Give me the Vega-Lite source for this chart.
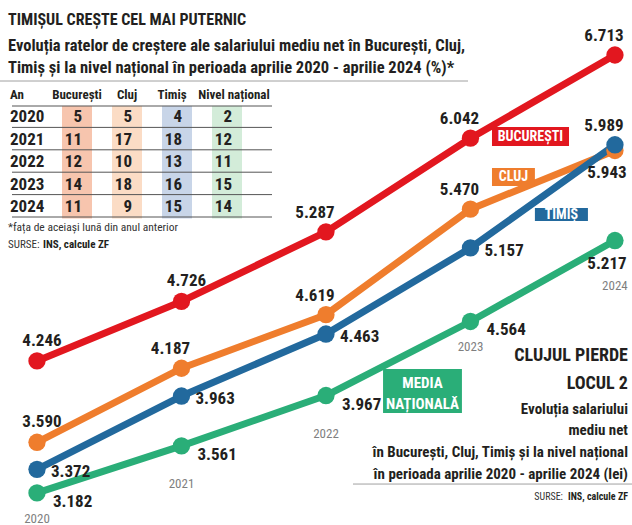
{
  "$schema": "https://vega.github.io/schema/vega-lite/v6.json",
  "width": 632,
  "height": 525,
  "autosize": "none",
  "padding": 0,
  "background": "white",
  "config": {
    "view": {"stroke": null},
    "font": "Roboto Condensed, DejaVu Sans Condensed, Liberation Sans Narrow, Liberation Sans, sans-serif",
    "locale": {"number": {"decimal": ",", "thousands": ".", "grouping": [3], "currency": ["", " lei"]}}
  },
  "datasets": {
    "salarii": [
      {"an": 2020, "regiune": "București", "salariu": 4246},
      {"an": 2021, "regiune": "București", "salariu": 4726},
      {"an": 2022, "regiune": "București", "salariu": 5287},
      {"an": 2023, "regiune": "București", "salariu": 6042},
      {"an": 2024, "regiune": "București", "salariu": 6713},
      {"an": 2020, "regiune": "Cluj", "salariu": 3590},
      {"an": 2021, "regiune": "Cluj", "salariu": 4187},
      {"an": 2022, "regiune": "Cluj", "salariu": 4619},
      {"an": 2023, "regiune": "Cluj", "salariu": 5470},
      {"an": 2024, "regiune": "Cluj", "salariu": 5943},
      {"an": 2020, "regiune": "Timiș", "salariu": 3372},
      {"an": 2021, "regiune": "Timiș", "salariu": 3963},
      {"an": 2022, "regiune": "Timiș", "salariu": 4463},
      {"an": 2023, "regiune": "Timiș", "salariu": 5157},
      {"an": 2024, "regiune": "Timiș", "salariu": 5989},
      {"an": 2020, "regiune": "Nivel național", "salariu": 3182},
      {"an": 2021, "regiune": "Nivel național", "salariu": 3561},
      {"an": 2022, "regiune": "Nivel național", "salariu": 3967},
      {"an": 2023, "regiune": "Nivel național", "salariu": 4564},
      {"an": 2024, "regiune": "Nivel național", "salariu": 5217}
    ],
    "rate": [
      {"an": "2020", "regiune": "București", "crestere": 5},
      {"an": "2020", "regiune": "Cluj", "crestere": 5},
      {"an": "2020", "regiune": "Timiș", "crestere": 4},
      {"an": "2020", "regiune": "Nivel național", "crestere": 2},
      {"an": "2021", "regiune": "București", "crestere": 11},
      {"an": "2021", "regiune": "Cluj", "crestere": 17},
      {"an": "2021", "regiune": "Timiș", "crestere": 18},
      {"an": "2021", "regiune": "Nivel național", "crestere": 12},
      {"an": "2022", "regiune": "București", "crestere": 12},
      {"an": "2022", "regiune": "Cluj", "crestere": 10},
      {"an": "2022", "regiune": "Timiș", "crestere": 13},
      {"an": "2022", "regiune": "Nivel național", "crestere": 11},
      {"an": "2023", "regiune": "București", "crestere": 14},
      {"an": "2023", "regiune": "Cluj", "crestere": 18},
      {"an": "2023", "regiune": "Timiș", "crestere": 16},
      {"an": "2023", "regiune": "Nivel național", "crestere": 15},
      {"an": "2024", "regiune": "București", "crestere": 11},
      {"an": "2024", "regiune": "Cluj", "crestere": 9},
      {"an": "2024", "regiune": "Timiș", "crestere": 15},
      {"an": "2024", "regiune": "Nivel național", "crestere": 14}
    ]
  },
  "layer": [
    {
      "layer": [
        {
          "data": {"name": "salarii"},
          "mark": {"type": "line", "strokeWidth": 7, "strokeCap": "round", "strokeJoin": "round"},
          "encoding": {
            "x": {"field": "an", "type": "quantitative", "scale": {"domain": [2019.744, 2024.118], "nice": false, "zero": false}, "axis": null},
            "y": {"field": "salariu", "type": "quantitative", "scale": {"domain": [2923, 7156.5], "nice": false, "zero": false}, "axis": null},
            "color": {"field": "regiune", "type": "nominal", "scale": {"domain": ["București", "Cluj", "Timiș", "Nivel național"], "range": ["#E2171F", "#EF7D2D", "#22699D", "#2AAE78"]}, "legend": null}
          }
        },
        {
          "data": {"name": "salarii"},
          "mark": {"type": "point", "filled": true, "size": 300, "opacity": 1, "shape": "circle"},
          "encoding": {
            "x": {"field": "an", "type": "quantitative"},
            "y": {"field": "salariu", "type": "quantitative"},
            "color": {"field": "regiune", "type": "nominal", "legend": null}
          }
        },
        {
          "data": {"name": "salarii"},
          "transform": [{"filter": "(datum.regiune === 'București' && datum.an <= 2021) || (datum.regiune === 'Cluj' && datum.an === 2020)"}],
          "mark": {"type": "text", "fontSize": 17, "fontWeight": "bold", "color": "#231F20", "align": "center", "baseline": "middle", "dx": 5, "dy": -20},
          "encoding": {
            "x": {"field": "an", "type": "quantitative"},
            "y": {"field": "salariu", "type": "quantitative"},
            "text": {"field": "salariu", "type": "quantitative", "format": ",d"}
          }
        },
        {
          "data": {"name": "salarii"},
          "transform": [{"filter": "(datum.regiune === 'București' && datum.an >= 2022) || (datum.regiune === 'Cluj' && datum.an >= 2021 && datum.an <= 2023) || (datum.regiune === 'Timiș' && datum.an === 2024)"}],
          "mark": {"type": "text", "fontSize": 17, "fontWeight": "bold", "color": "#231F20", "align": "center", "baseline": "middle", "dx": -11, "dy": -19},
          "encoding": {
            "x": {"field": "an", "type": "quantitative"},
            "y": {"field": "salariu", "type": "quantitative"},
            "text": {"field": "salariu", "type": "quantitative", "format": ",d"}
          }
        },
        {
          "data": {"name": "salarii"},
          "transform": [{"filter": "datum.regiune === 'Timiș' && datum.an <= 2023"}],
          "mark": {"type": "text", "fontSize": 17, "fontWeight": "bold", "color": "#231F20", "align": "left", "baseline": "middle", "dx": 14, "dy": 3},
          "encoding": {
            "x": {"field": "an", "type": "quantitative"},
            "y": {"field": "salariu", "type": "quantitative"},
            "text": {"field": "salariu", "type": "quantitative", "format": ",d"}
          }
        },
        {
          "data": {"name": "salarii"},
          "transform": [{"filter": "datum.regiune === 'Nivel național' && datum.an <= 2023"}],
          "mark": {"type": "text", "fontSize": 17, "fontWeight": "bold", "color": "#231F20", "align": "left", "baseline": "middle", "dx": 16, "dy": 9},
          "encoding": {
            "x": {"field": "an", "type": "quantitative"},
            "y": {"field": "salariu", "type": "quantitative"},
            "text": {"field": "salariu", "type": "quantitative", "format": ",d"}
          }
        },
        {
          "data": {"name": "salarii"},
          "transform": [{"filter": "(datum.regiune === 'Cluj' || datum.regiune === 'Nivel național') && datum.an === 2024"}],
          "mark": {"type": "text", "fontSize": 17, "fontWeight": "bold", "color": "#231F20", "align": "center", "baseline": "middle", "dx": -8, "dy": 23},
          "encoding": {
            "x": {"field": "an", "type": "quantitative"},
            "y": {"field": "salariu", "type": "quantitative"},
            "text": {"field": "salariu", "type": "quantitative", "format": ",d"}
          }
        },
        {
          "data": {"name": "salarii"},
          "transform": [{"filter": "datum.regiune === 'Nivel național' && (datum.an === 2020 || datum.an === 2023)"}],
          "mark": {"type": "text", "fontSize": 13, "color": "#7F7F7F", "align": "center", "baseline": "middle", "dy": 26},
          "encoding": {
            "x": {"field": "an", "type": "quantitative"},
            "y": {"field": "salariu", "type": "quantitative"},
            "text": {"field": "an", "type": "nominal"}
          }
        },
        {
          "data": {"name": "salarii"},
          "transform": [{"filter": "datum.regiune === 'Nivel național' && (datum.an === 2021 || datum.an === 2022)"}],
          "mark": {"type": "text", "fontSize": 13, "color": "#7F7F7F", "align": "center", "baseline": "middle", "dy": 38},
          "encoding": {
            "x": {"field": "an", "type": "quantitative"},
            "y": {"field": "salariu", "type": "quantitative"},
            "text": {"field": "an", "type": "nominal"}
          }
        },
        {
          "data": {"name": "salarii"},
          "transform": [{"filter": "datum.regiune === 'Nivel național' && datum.an === 2024"}],
          "mark": {"type": "text", "fontSize": 13, "color": "#7F7F7F", "align": "center", "baseline": "middle", "dy": 45},
          "encoding": {
            "x": {"field": "an", "type": "quantitative"},
            "y": {"field": "salariu", "type": "quantitative"},
            "text": {"field": "an", "type": "nominal"}
          }
        },
        {
          "data": {"values": [{}]},
          "mark": {"type": "rect", "color": "#E2171F"},
          "encoding": {"x": {"datum": 2023.149}, "x2": {"datum": 2023.682}, "y": {"datum": 6132.3}, "y2": {"datum": 5979.1}}
        },
        {
          "data": {"values": [{}]},
          "mark": {"type": "text", "text": "BUCUREȘTI", "fontSize": 14, "fontWeight": "bold", "color": "white", "align": "center", "baseline": "middle"},
          "encoding": {"x": {"datum": 2023.415}, "y": {"datum": 6055.7}}
        },
        {
          "data": {"values": [{}]},
          "mark": {"type": "rect", "color": "#EF7D2D"},
          "encoding": {"x": {"datum": 2023.149}, "x2": {"datum": 2023.446}, "y": {"datum": 5801.7}, "y2": {"datum": 5656.5}}
        },
        {
          "data": {"values": [{}]},
          "mark": {"type": "text", "text": "CLUJ", "fontSize": 14, "fontWeight": "bold", "color": "white", "align": "center", "baseline": "middle"},
          "encoding": {"x": {"datum": 2023.298}, "y": {"datum": 5729.1}}
        },
        {
          "data": {"values": [{}]},
          "mark": {"type": "rect", "color": "#22699D"},
          "encoding": {"x": {"datum": 2023.446}, "x2": {"datum": 2023.813}, "y": {"datum": 5479.1}, "y2": {"datum": 5374.2}}
        },
        {
          "data": {"values": [{}]},
          "mark": {"type": "text", "text": "TIMIȘ", "fontSize": 14, "fontWeight": "bold", "color": "white", "align": "center", "baseline": "middle"},
          "encoding": {"x": {"datum": 2023.629}, "y": {"datum": 5426.7}}
        },
        {
          "data": {"values": [{}]},
          "mark": {"type": "rect", "color": "#2AAE78"},
          "encoding": {"x": {"datum": 2022.395}, "x2": {"datum": 2022.941}, "y": {"datum": 4180.7}, "y2": {"datum": 3825.9}}
        },
        {
          "data": {"values": [{}]},
          "mark": {"type": "text", "text": ["MEDIA", "NAȚIONALĂ"], "fontSize": 15, "fontWeight": "bold", "color": "white", "align": "center", "baseline": "top", "lineHeight": 21},
          "encoding": {"x": {"datum": 2022.668}, "y": {"datum": 4128.3}}
        },
        {
          "data": {"values": [{}]},
          "mark": {"type": "text", "text": "TIMIȘUL CREȘTE CEL MAI PUTERNIC", "fontSize": 16, "fontWeight": "bold", "color": "#231F20", "align": "left", "baseline": "middle"},
          "encoding": {"x": {"datum": 2019.7994}, "y": {"datum": 6995.2}}
        },
        {
          "data": {"values": [{}]},
          "mark": {"type": "text", "text": ["Evoluția ratelor de creștere ale salariului mediu net în București, Cluj,", "Timiș și la nivel național în perioada aprilie 2020 - aprilie 2024 (%)*"], "fontSize": 16.5, "fontWeight": "bold", "color": "#231F20", "align": "left", "baseline": "top", "lineHeight": 22},
          "encoding": {"x": {"datum": 2019.7994}, "y": {"datum": 6851.6}}
        },
        {
          "data": {"values": [{}]},
          "mark": {"type": "rule", "color": "#A0A0A0", "strokeWidth": 1},
          "encoding": {"x": {"datum": 2019.744}, "x2": {"datum": 2022.983}, "y": {"datum": 6503.3}}
        },
        {
          "data": {"values": [{}]},
          "mark": {"type": "text", "text": "*fața de aceiași lună din anul anterior", "fontSize": 11.5, "color": "#333333", "align": "left", "baseline": "middle"},
          "encoding": {"x": {"datum": 2019.7994}, "y": {"datum": 5317.8}}
        },
        {
          "data": {"values": [{}]},
          "mark": {"type": "text", "text": "SURSE:", "fontSize": 11, "color": "#333333", "align": "left", "baseline": "middle"},
          "encoding": {"x": {"datum": 2019.7994}, "y": {"datum": 5180.7}}
        },
        {
          "data": {"values": [{}]},
          "mark": {"type": "text", "text": "INS, calcule ZF", "fontSize": 11, "fontWeight": "bold", "color": "#231F20", "align": "left", "baseline": "middle", "dx": 35},
          "encoding": {"x": {"datum": 2019.7994}, "y": {"datum": 5180.7}}
        },
        {
          "data": {"values": [{}]},
          "mark": {"type": "text", "text": ["CLUJUL PIERDE", "LOCUL 2"], "fontSize": 18, "fontWeight": "bold", "color": "#231F20", "align": "right", "baseline": "top", "lineHeight": 28},
          "encoding": {"x": {"datum": 2024.09}, "y": {"datum": 4355.8}}
        },
        {
          "data": {"values": [{}]},
          "mark": {"type": "text", "text": ["Evoluția salariului", "mediu net", "în București, Cluj, Timiș și la nivel național", "în perioada aprilie 2020 - aprilie 2024 (lei)"], "fontSize": 15, "fontWeight": "bold", "color": "#231F20", "align": "right", "baseline": "top", "lineHeight": 21.7},
          "encoding": {"x": {"datum": 2024.09}, "y": {"datum": 3918.6}}
        },
        {
          "data": {"values": [{}]},
          "mark": {"type": "rule", "color": "#A0A0A0", "strokeWidth": 1},
          "encoding": {"x": {"datum": 2022.187}, "x2": {"datum": 2024.118}, "y": {"datum": 3253.3}}
        },
        {
          "data": {"values": [{}]},
          "mark": {"type": "text", "text": "INS, calcule ZF", "fontSize": 10, "fontWeight": "bold", "color": "#231F20", "align": "right", "baseline": "middle"},
          "encoding": {"x": {"datum": 2024.09}, "y": {"datum": 3148.5}}
        },
        {
          "data": {"values": [{}]},
          "mark": {"type": "text", "text": "SURSE:", "fontSize": 10, "color": "#333333", "align": "right", "baseline": "middle", "dx": -65},
          "encoding": {"x": {"datum": 2024.09}, "y": {"datum": 3148.5}}
        }
      ]
    },
    {
      "layer": [
        {
          "data": {"name": "rate"},
          "mark": {"type": "rect", "width": 30, "height": 23},
          "encoding": {
            "x": {"field": "regiune", "type": "nominal", "scale": {"type": "point", "domain": ["An", "București", "Cluj", "Timiș", "Nivel național"], "range": [27, 227], "padding": 0}, "axis": null},
            "y": {"field": "an", "type": "nominal", "scale": {"type": "point", "domain": ["An", "2020", "2021", "2022", "2023", "2024"], "range": [95, 207], "padding": 0}, "axis": null},
            "color": {"field": "regiune", "type": "nominal", "scale": {"domain": ["București", "Cluj", "Timiș", "Nivel național"], "range": ["#F7C5AE", "#FBDCC5", "#C8D5E8", "#D3ECD9"]}, "legend": null}
          }
        },
        {
          "data": {"values": [{}]},
          "mark": {"type": "rule", "color": "#555555", "strokeWidth": 1, "xOffset": -15, "x2Offset": 45, "yOffset": 11},
          "encoding": {"x": {"datum": "An"}, "x2": {"datum": "Nivel național"}, "y": {"datum": "An"}}
        },
        {
          "data": {"name": "rate"},
          "transform": [{"filter": "datum.regiune === 'București'"}],
          "mark": {"type": "rule", "color": "#555555", "strokeWidth": 1, "xOffset": -15, "x2Offset": 45, "yOffset": 10},
          "encoding": {"x": {"datum": "An"}, "x2": {"datum": "Nivel național"}, "y": {"field": "an", "type": "nominal"}}
        },
        {
          "data": {"values": [{}]},
          "mark": {"type": "text", "text": "An", "fontSize": 13, "fontWeight": "bold", "color": "#231F20", "align": "left", "baseline": "middle", "dx": -17},
          "encoding": {"x": {"datum": "An"}, "y": {"datum": "An"}}
        },
        {
          "data": {"name": "rate"},
          "transform": [{"filter": "datum.an === '2020' && (datum.regiune === 'București' || datum.regiune === 'Cluj')"}],
          "mark": {"type": "text", "fontSize": 13, "fontWeight": "bold", "color": "#231F20", "align": "center", "baseline": "middle"},
          "encoding": {"x": {"field": "regiune", "type": "nominal"}, "y": {"datum": "An"}, "text": {"field": "regiune", "type": "nominal"}}
        },
        {
          "data": {"name": "rate"},
          "transform": [{"filter": "datum.an === '2020' && datum.regiune === 'Timiș'"}],
          "mark": {"type": "text", "fontSize": 13, "fontWeight": "bold", "color": "#231F20", "align": "center", "baseline": "middle", "dx": -5},
          "encoding": {"x": {"field": "regiune", "type": "nominal"}, "y": {"datum": "An"}, "text": {"field": "regiune", "type": "nominal"}}
        },
        {
          "data": {"name": "rate"},
          "transform": [{"filter": "datum.an === '2020' && datum.regiune === 'Nivel național'"}],
          "mark": {"type": "text", "fontSize": 13, "fontWeight": "bold", "color": "#231F20", "align": "center", "baseline": "middle", "dx": 7},
          "encoding": {"x": {"field": "regiune", "type": "nominal"}, "y": {"datum": "An"}, "text": {"field": "regiune", "type": "nominal"}}
        },
        {
          "data": {"name": "rate"},
          "transform": [{"filter": "datum.regiune === 'București'"}],
          "mark": {"type": "text", "fontSize": 17, "fontWeight": "bold", "color": "#231F20", "align": "left", "baseline": "middle", "dx": -17},
          "encoding": {"x": {"datum": "An"}, "y": {"field": "an", "type": "nominal"}, "text": {"field": "an", "type": "nominal"}}
        },
        {
          "data": {"name": "rate"},
          "mark": {"type": "text", "fontSize": 17, "fontWeight": "bold", "color": "#231F20", "align": "right", "baseline": "middle", "dx": 5},
          "encoding": {"x": {"field": "regiune", "type": "nominal"}, "y": {"field": "an", "type": "nominal"}, "text": {"field": "crestere", "type": "quantitative"}}
        }
      ]
    }
  ],
  "resolve": {"scale": {"x": "independent", "y": "independent", "color": "independent"}}
}
